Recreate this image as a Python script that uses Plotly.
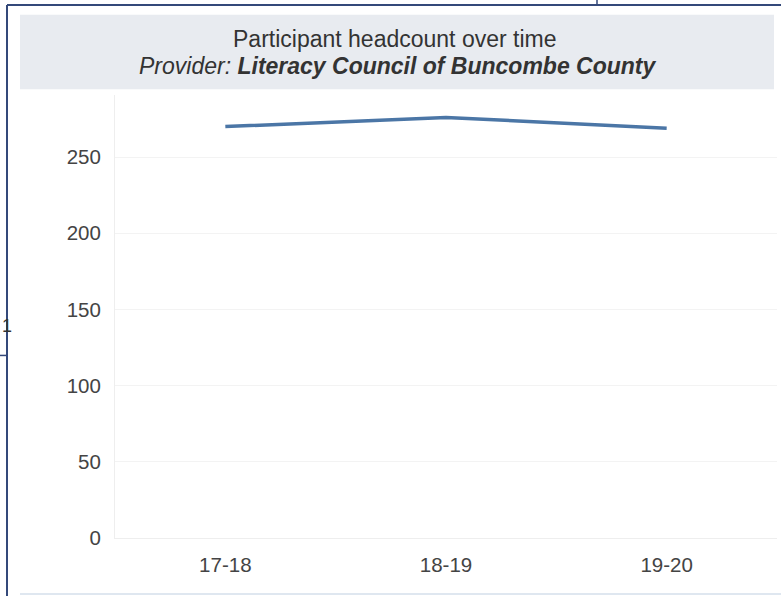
import plotly.graph_objects as go

W, H = 781, 607

years = ["17-18", "18-19", "19-20"]
headcount = [270, 276, 269]
y_ticks = [0, 50, 100, 150, 200, 250]

title_line1 = "Participant headcount over time"
title_line2 = "<i>Provider: <b>Literacy Council of Buncombe County</b></i>"

def px(x):
    return x / W

def py(y):
    return 1 - y / H

fig = go.Figure()
fig.add_trace(go.Scatter(
    x=years, y=headcount, mode="lines",
    line=dict(color="#4b76a6", width=3.5),
    hoverinfo="x+y",
))

plot_l, plot_r, plot_t, plot_b = 115, 777, 97, 548
y_top = 250 * (plot_b - plot_t) / (plot_b - 160)

fig.update_layout(
    width=W, height=H,
    margin=dict(l=0, r=0, t=0, b=0),
    paper_bgcolor="white", plot_bgcolor="white",
    showlegend=False,
    font=dict(family="Liberation Sans, Arial, sans-serif", color="#444"),
    xaxis=dict(
        domain=[px(plot_l), px(plot_r)],
        type="category", range=[-0.5, 2.5],
        showgrid=False, zeroline=False,
        showline=True, linecolor="#eeeeee", linewidth=1,
        tickfont=dict(size=20.5, color="#444"),
        ticks="", ticklabelstandoff=8,
    ),
    yaxis=dict(
        domain=[py(plot_b), py(plot_t)],
        range=[0, y_top],
        tickvals=y_ticks,
        showgrid=True, gridcolor="#f3f3f3", gridwidth=1,
        zeroline=False,
        showline=True, linecolor="#eeeeee", linewidth=1,
        tickfont=dict(size=20.5, color="#444"),
        ticks="", ticklabelstandoff=9,
    ),
    shapes=[
        dict(type="rect", xref="paper", yref="paper",
             x0=px(20), x1=px(774), y0=py(91), y1=py(15),
             fillcolor="#e8ebf0", line=dict(width=0), layer="below"),
        dict(type="line", xref="paper", yref="paper",
             x0=px(7), x1=px(7), y0=py(5), y1=py(607),
             line=dict(color="#34497a", width=2)),
        dict(type="line", xref="paper", yref="paper",
             x0=px(7), x1=px(781), y0=py(5), y1=py(5),
             line=dict(color="#34497a", width=2)),
        dict(type="line", xref="paper", yref="paper",
             x0=px(597), x1=px(597), y0=py(0), y1=py(5),
             line=dict(color="#34497a", width=1.5)),
        dict(type="line", xref="paper", yref="paper",
             x0=px(0), x1=px(7), y0=py(362), y1=py(362),
             line=dict(color="#34497a", width=1.5)),
        dict(type="line", xref="paper", yref="paper",
             x0=px(20), x1=px(781), y0=py(605), y1=py(605),
             line=dict(color="#dfe7f0", width=2)),
    ],
    annotations=[
        dict(text=title_line1, xref="paper", yref="paper",
             x=px(395), y=py(40), xanchor="center", yanchor="middle",
             showarrow=False, font=dict(size=23, color="#333")),
        dict(text=title_line2, xref="paper", yref="paper",
             x=px(398), y=py(67), xanchor="center", yanchor="middle",
             showarrow=False, font=dict(size=23, color="#333")),
        dict(text="1", xref="paper", yref="paper",
             x=px(0), y=py(332), xanchor="left", yanchor="middle",
             showarrow=False, font=dict(size=18, color="#333")),
    ],
)

fig.write_html("out.html")
